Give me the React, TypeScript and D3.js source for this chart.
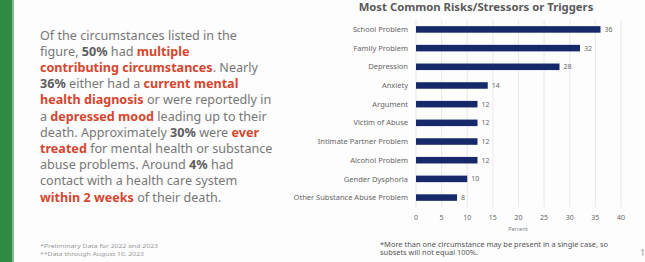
import * as d3 from 'd3'

const categories = [
  'School Problem',
  'Family Problem',
  'Depression',
  'Anxiety',
  'Argument',
  'Victim of Abuse',
  'Intimate Partner Problem',
  'Alcohol Problem',
  'Gender Dysphoria',
  'Other Substance Abuse Problem',
]
const percents = [36, 32, 28, 14, 12, 12, 12, 12, 10, 8]
const xTicks = [0, 5, 10, 15, 20, 25, 30, 35, 40]

// paragraph runs: [text, style] where style g=gray, b=bold gray, r=bold red
type Run = [string, 'g' | 'b' | 'r']
const paragraph: Run[][] = [
  [['Of the circumstances listed in the', 'g']],
  [['figure, ', 'g'], ['50%', 'b'], [' had ', 'g'], ['multiple', 'r']],
  [['contributing circumstances', 'r'], ['. Nearly', 'g']],
  [['36%', 'b'], [' either had a ', 'g'], ['current mental', 'r']],
  [['health diagnosis', 'r'], [' or were reportedly in', 'g']],
  [['a ', 'g'], ['depressed mood', 'r'], [' leading up to their', 'g']],
  [['death. Approximately ', 'g'], ['30%', 'b'], [' were ', 'g'], ['ever', 'r']],
  [['treated', 'r'], [' for mental health or substance', 'g']],
  [['abuse problems. Around ', 'g'], ['4%', 'b'], [' had', 'g']],
  [['contact with a health care system', 'g']],
  [['within 2 weeks', 'r'], [' of their death.', 'g']],
]

const W = 645
const H = 262
const font = "'Noto Sans', 'Open Sans', sans-serif"

export default function App() {
  const x = d3.scaleLinear().domain([0, 40]).range([416, 621])
  const y = d3.scaleBand().domain(categories).range([20, 207]).paddingInner(0.65).paddingOuter(0.33)

  const styleOf = (s: Run[1]) =>
    s === 'r'
      ? { fill: '#d5462f', fontWeight: 700 }
      : s === 'b'
        ? { fill: '#5e5e5e', fontWeight: 700 }
        : { fill: '#777', fontWeight: 400 }

  return (
    <svg
      width={W}
      height={H}
      style={{ position: 'absolute', left: 0, top: 0, background: '#fdfdfd' }}
      fontFamily={font}
    >
      <rect x={0} y={0} width={12} height={H} fill="#2f8a44" />
      <rect x={12} y={0} width={2} height={H} fill="#7fbf8a" />

      {paragraph.map((line, i) => (
        <text key={i} x={40} y={39.5 + i * 16.2} fontSize={12.6}>
          {line.map(([t, s], j) => (
            <tspan key={j} {...styleOf(s)} style={{ whiteSpace: 'pre' }}>
              {t}
            </tspan>
          ))}
        </text>
      ))}

      <text x={40} y={248} fontSize={5.5} fill="#999" textLength={118} lengthAdjust="spacingAndGlyphs">
        *Preliminary Data for 2022 and 2023
      </text>
      <text x={40} y={256} fontSize={5.5} fill="#999" textLength={104} lengthAdjust="spacingAndGlyphs">
        **Data through August 10, 2023
      </text>

      <text x={476} y={11} textAnchor="middle" fontSize={11.3} fontWeight={700} fill="#5a5a5a">
        Most Common Risks/Stressors or Triggers
      </text>

      {xTicks.map((t) => (
        <g key={t}>
          <line x1={x(t)} x2={x(t)} y1={20} y2={207} stroke="#e2e2e2" strokeWidth={0.8} />
          <text x={x(t)} y={219.5} textAnchor="middle" fontSize={7} fill="#666">
            {t}
          </text>
        </g>
      ))}
      <text x={518} y={231} textAnchor="middle" fontSize={5.5} fill="#888">Percent</text>

      {categories.map((c, i) => (
        <g key={c}>
          <text
            x={408}
            y={y(c)! + y.bandwidth() / 2}
            dy="0.35em"
            textAnchor="end"
            fontSize={7.5}
            fill="#666"
          >
            {c}
          </text>
          <rect x={x(0)} y={y(c)!} width={x(percents[i]) - x(0)} height={y.bandwidth()} fill="#162a6b" />
          <text
            x={x(percents[i]) + 4}
            y={y(c)! + y.bandwidth() / 2}
            dy="0.35em"
            fontSize={7}
            fill="#666"
          >
            {percents[i]}
          </text>
        </g>
      ))}

      <text x={380} y={247} fontSize={6.3} fill="#555" textLength={228} lengthAdjust="spacingAndGlyphs">
        *More than one circumstance may be present in a single case, so
      </text>
      <text x={380} y={255} fontSize={6.3} fill="#555" textLength={98} lengthAdjust="spacingAndGlyphs">
        subsets will not equal 100%.
      </text>
      <text x={640} y={256} fontSize={9} fill="#999">1</text>
    </svg>
  )
}
